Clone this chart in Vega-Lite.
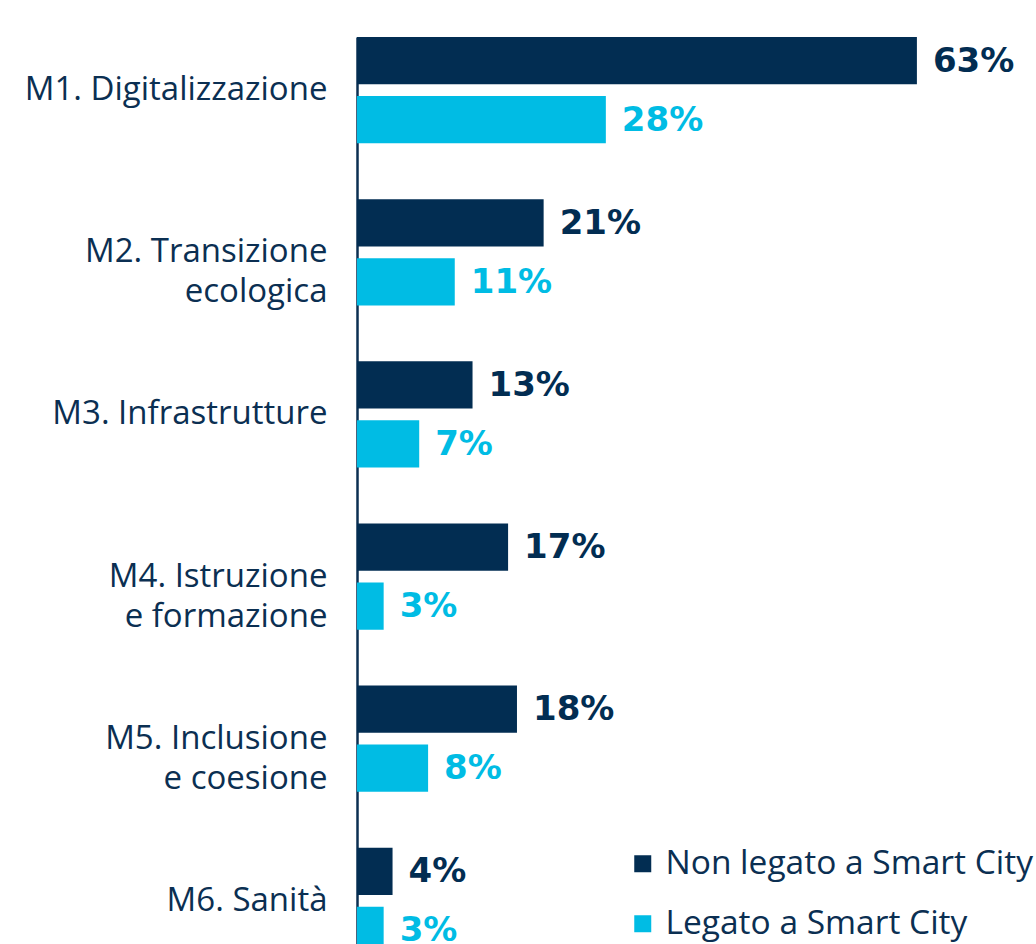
{
  "$schema": "https://vega.github.io/schema/vega-lite/v6.json",
  "width": 679,
  "height": 935,
  "autosize": {"type": "none"},
  "padding": {"left": 357, "top": 9, "right": 0, "bottom": 0},
  "background": "white",
  "config": {"view": {"stroke": null}, "font": "Open Sans"},
  "data": {
    "values": [
      {"missione": "M1. Digitalizzazione", "serie": "Non legato a Smart City", "valore": 63},
      {"missione": "M1. Digitalizzazione", "serie": "Legato a Smart City", "valore": 28},
      {"missione": "M2.  Transizione|ecologica", "serie": "Non legato a Smart City", "valore": 21},
      {"missione": "M2.  Transizione|ecologica", "serie": "Legato a Smart City", "valore": 11},
      {"missione": "M3. Infrastrutture", "serie": "Non legato a Smart City", "valore": 13},
      {"missione": "M3. Infrastrutture", "serie": "Legato a Smart City", "valore": 7},
      {"missione": "M4. Istruzione|e formazione", "serie": "Non legato a Smart City", "valore": 17},
      {"missione": "M4. Istruzione|e formazione", "serie": "Legato a Smart City", "valore": 3},
      {"missione": "M5. Inclusione|e coesione", "serie": "Non legato a Smart City", "valore": 18},
      {"missione": "M5. Inclusione|e coesione", "serie": "Legato a Smart City", "valore": 8},
      {"missione": "M6. Sanità", "serie": "Non legato a Smart City", "valore": 4},
      {"missione": "M6. Sanità", "serie": "Legato a Smart City", "valore": 3}
    ]
  },
  "encoding": {
    "y": {
      "field": "missione",
      "type": "nominal",
      "sort": null,
      "title": null,
      "scale": {"range": [28, 945], "paddingInner": 0.344, "paddingOuter": 0},
      "axis": {
        "labelExpr": "split(datum.label, '|')",
        "labelFont": "Open Sans",
        "labelFontSize": 33,
        "labelColor": "#0B2F52",
        "labelPadding": 30,
        "labelLineHeight": 40,
        "labelLimit": 400,
        "ticks": false,
        "domainColor": "#0B2F52",
        "domainWidth": 2.5,
        "grid": false
      }
    },
    "yOffset": {
      "field": "serie",
      "type": "nominal",
      "sort": ["Non legato a Smart City", "Legato a Smart City"],
      "scale": {"paddingInner": 0.2, "paddingOuter": 0}
    },
    "x": {
      "field": "valore",
      "type": "quantitative",
      "scale": {"domain": [0, 76.4], "nice": false, "zero": true},
      "axis": null
    },
    "color": {
      "field": "serie",
      "type": "nominal",
      "sort": ["Non legato a Smart City", "Legato a Smart City"],
      "scale": {"domain": ["Non legato a Smart City", "Legato a Smart City"], "range": ["#022D52", "#00BCE4"]},
      "legend": {
        "title": null,
        "orient": "bottom-right",
        "offset": 3,
        "symbolType": "square",
        "symbolSize": 289,
        "symbolStrokeWidth": 0,
        "labelFont": "Open Sans",
        "labelFontSize": 33.5,
        "labelColor": "#0B2F52",
        "labelOffset": 6,
        "rowPadding": 25,
        "labelLimit": 500,
        "padding": 0
      }
    }
  },
  "layer": [
    {"mark": {"type": "bar", "clip": true}},
    {
      "mark": {
        "type": "text",
        "align": "left",
        "baseline": "middle",
        "dx": 16,
        "dy": 1,
        "font": "DejaVu Sans",
        "fontSize": 34,
        "fontWeight": "bold",
        "text": {"expr": "datum.valore + '%'"}
      }
    }
  ]
}
